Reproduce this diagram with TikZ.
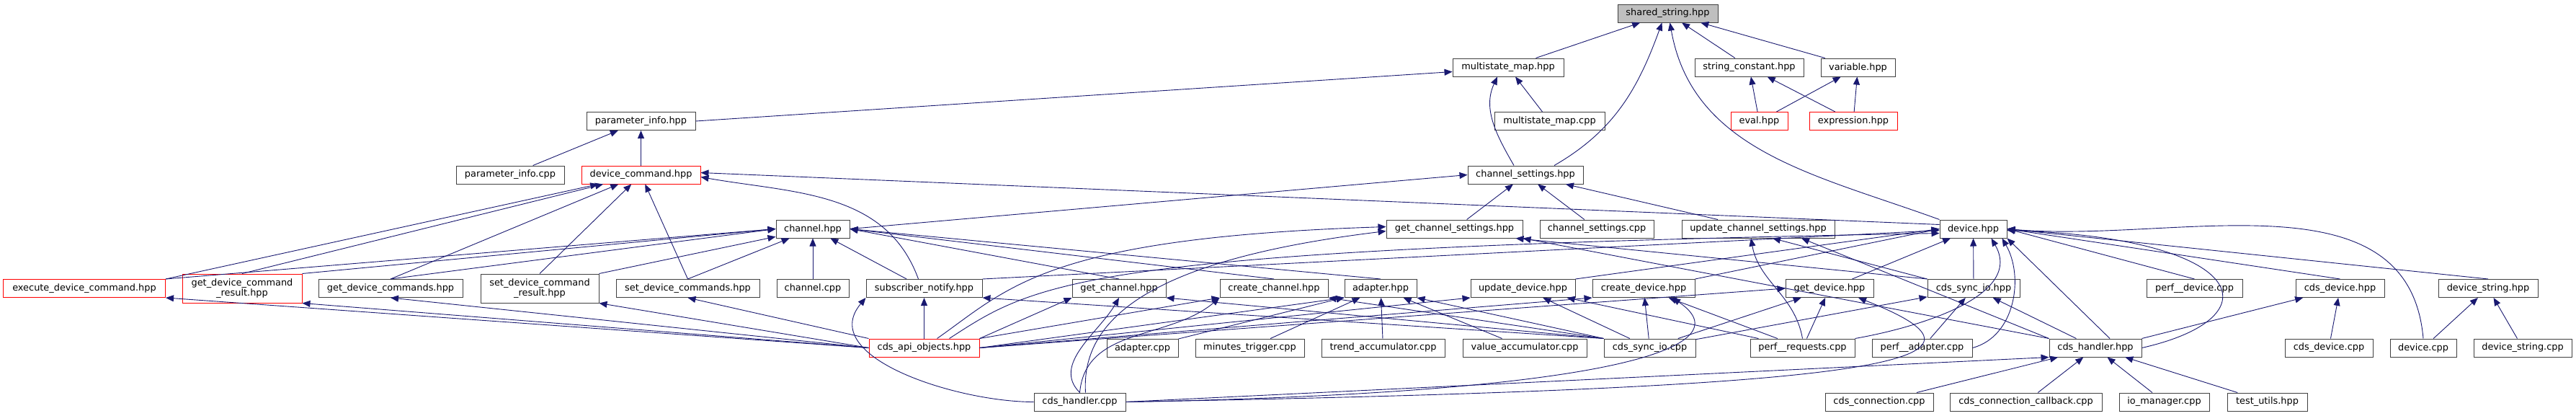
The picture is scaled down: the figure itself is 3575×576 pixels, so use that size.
\documentclass[tikz,border=0pt]{standalone}
\usepackage{fontspec}
\newfontfamily\dvs{DejaVu Sans}
\usetikzlibrary{arrows.meta}
\definecolor{edgeblue}{RGB}{25,25,112}
\definecolor{boxgray}{RGB}{191,191,191}
\tikzset{
  file/.style={draw=black!75, line width=1pt, fill=white, minimum height=25, inner sep=0pt,
    align=center, font=\dvs\fontsize{12.9}{14.5}\selectfont},
  trunc/.style={file, draw=red},
  self/.style={file, fill=boxgray},
  dep/.style={draw=edgeblue, line width=0.9pt, -{Triangle[length=11pt,width=9pt]}},
}

\begin{document}
\begin{tikzpicture}[x=1pt,y=1pt]
    \useasboundingbox (0,0) rectangle (3575,-576);
    % rows 1 to 4
    \node[self, minimum width=139] (ss) at (2314.5,-18.5) {shared\_string.hpp};
    \node[file, minimum width=154] (msh) at (2093,-93.5) {multistate\_map.hpp};
    \node[file, minimum width=151] (sc) at (2427.5,-93.5) {string\_constant.hpp};
    \node[file, minimum width=103] (var) at (2578.5,-93.5) {variable.hpp};
    \node[file, minimum width=151] (pih) at (889.5,-168) {parameter\_info.hpp};
    \node[file, minimum width=153] (msc) at (2150.5,-168) {multistate\_map.cpp};
    \node[trunc, minimum width=79] (eval) at (2441.5,-168) {eval.hpp};
    \node[trunc, minimum width=122] (expr) at (2572,-168) {expression.hpp};
    \node[file, minimum width=150] (pic) at (708,-242.5) {parameter\_info.cpp};
    \node[trunc, minimum width=165] (dc) at (889.5,-242.5) {device\_command.hpp};
    \node[file, minimum width=160] (csh) at (2117,-242.5) {channel\_settings.hpp};
    % row 5
    \node[file, minimum width=102] (ch) at (1128,-317.5) {channel.hpp};
    \node[file, minimum width=189] (gcs) at (2018.5,-317.5) {get\_channel\_settings.hpp};
    \node[file, minimum width=158] (csc) at (2216,-317.5) {channel\_settings.cpp};
    \node[file, minimum width=212] (ucs) at (2440,-317.5) {update\_channel\_settings.hpp};
    \node[file, minimum width=93] (dev) at (2738.5,-317.5) {device.hpp};
    % row 6
    \node[trunc, minimum width=225] (edc) at (117,-400) {execute\_device\_command.hpp};
    \node[trunc, minimum width=166, minimum height=40] (gdcr) at (336,-400) {get\_device\_command\\\_result.hpp};
    \node[file, minimum width=200] (gdcs) at (542,-400) {get\_device\_commands.hpp};
    \node[file, minimum width=164, minimum height=40] (sdcr) at (749,-400) {set\_device\_command\\\_result.hpp};
    \node[file, minimum width=199] (sdcs) at (954.5,-400) {set\_device\_commands.hpp};
    \node[file, minimum width=100] (chc) at (1128,-400) {channel.cpp};
    \node[file, minimum width=161] (sn) at (1282.5,-400) {subscriber\_notify.hpp};
    \node[file, minimum width=130] (gch) at (1553,-400) {get\_channel.hpp};
    \node[file, minimum width=150] (cch) at (1768,-400) {create\_channel.hpp};
    \node[file, minimum width=100] (adh) at (1916,-400) {adapter.hpp};
    \node[file, minimum width=145] (udh) at (2113.5,-400) {update\_device.hpp};
    \node[file, minimum width=142] (cdh) at (2281,-400) {create\_device.hpp};
    \node[file, minimum width=122] (gdh) at (2539,-400) {get\_device.hpp};
    \node[file, minimum width=128] (csio) at (2739,-400) {cds\_sync\_io.hpp};
    \node[file, minimum width=133] (pdc) at (3045.5,-400) {perf\_\_device.cpp};
    \node[file, minimum width=123] (cdvh) at (3247.5,-400) {cds\_device.hpp};
    \node[file, minimum width=138] (dsh) at (3453,-400) {device\_string.hpp};
    % row 7
    \node[trunc, minimum width=153] (cao) at (1282.5,-482.5) {cds\_api\_objects.hpp};
    \node[file, minimum width=99] (adc) at (1585.5,-482.5) {adapter.cpp};
    \node[file, minimum width=151] (mtc) at (1734.5,-482.5) {minutes\_trigger.cpp};
    \node[file, minimum width=171] (tac) at (1919.5,-482.5) {trend\_accumulator.cpp};
    \node[file, minimum width=172] (vac) at (2116,-482.5) {value\_accumulator.cpp};
    \node[file, minimum width=127] (csioc) at (2289.5,-482.5) {cds\_sync\_io.cpp};
    \node[file, minimum width=145] (prc) at (2501.5,-482.5) {perf\_\_requests.cpp};
    \node[file, minimum width=139] (pac) at (2667.5,-482.5) {perf\_\_adapter.cpp};
    \node[file, minimum width=128] (chh) at (2908,-482.5) {cds\_handler.hpp};
    \node[file, minimum width=122] (cdvc) at (3232,-482.5) {cds\_device.cpp};
    \node[file, minimum width=92] (devc) at (3363,-482.5) {device.cpp};
    \node[file, minimum width=136] (dsc) at (3501,-482.5) {device\_string.cpp};
    % row 8
    \node[file, minimum width=127] (chcpp) at (1498.5,-557.5) {cds\_handler.cpp};
    \node[file, minimum width=150] (ccc) at (2608,-557.5) {cds\_connection.cpp};
    \node[file, minimum width=211] (cccb) at (2811.5,-557.5) {cds\_connection\_callback.cpp};
    \node[file, minimum width=125] (iom) at (3003.5,-557.5) {io\_manager.cpp};
    \node[file, minimum width=111] (tu) at (3146.5,-557.5) {test\_utils.hpp};

    % includes of shared_string.hpp and its first users
    \draw[dep] (msh) -- (ss);
    \draw[dep] (sc) -- (ss);
    \draw[dep] (var) -- (ss);
    \draw[dep] ([xshift=40]csh.north) to[out=30,in=-110] ([xshift=-8]ss.south);
    \draw[dep] (dev.north west) to[out=160,in=-80] ([xshift=3]ss.south);
    \draw[dep] (pih.east) -- ([yshift=-6]msh.west);
    \draw[dep] (msc) -- (msh);
    \draw[dep] ([xshift=-16]csh.north) to[out=120,in=-115] ([xshift=-15]msh.south);
    \draw[dep] (eval) -- (sc);
    \draw[dep] (expr) -- (sc);
    \draw[dep] (eval) -- (var);
    \draw[dep] (expr) -- (var);
    \draw[dep] (pic) -- (pih);
    \draw[dep] (dc) -- (pih);
    % device_command.hpp
    \draw[dep] (edc.north east) -- (dc);
    \draw[dep] (gdcr.north) -- (dc);
    \draw[dep] (gdcs.north) -- (dc);
    \draw[dep] (sdcr.north) -- (dc);
    \draw[dep] (sdcs.north) -- (dc);
    \draw[dep] ([xshift=-8]sn.north) to[out=110,in=-10] ([yshift=-3]dc.east);
    \draw[dep] ([yshift=6]dev.west) -- ([yshift=3]dc.east);
    % channel_settings.hpp
    \draw[dep] (ch.east) -- (csh.west);
    \draw[dep] (gcs) -- (csh);
    \draw[dep] (csc) -- (csh);
    \draw[dep] (ucs) -- (csh);
    % channel.hpp
    \draw[dep] (edc.north east) -- (ch.west);
    \draw[dep] (gdcr.north east) -- (ch.west);
    \draw[dep] (gdcs.north) -- (ch.west);
    \draw[dep] (sdcr.north east) -- (ch);
    \draw[dep] (sdcs.north) -- (ch);
    \draw[dep] (chc) -- (ch);
    \draw[dep] (sn) -- (ch);
    \draw[dep] (gch.north) -- (ch.east);
    \draw[dep] (cch.north) -- (ch.east);
    \draw[dep] (adh.north) -- (ch.east);
    % device.hpp
    \draw[dep] (gdh) -- (dev);
    \draw[dep] (csio) -- (dev);
    \draw[dep] (sn.north east) -- ([yshift=-2]dev.west);
    \draw[dep] (udh.north east) -- (dev.west);
    \draw[dep] (cdh.north east) -- (dev.west);
    \draw[dep] (prc.north east) to[out=10,in=-60] ([xshift=25]dev.south);
    \draw[dep] (pac.east) to[out=15,in=-60] ([xshift=40]dev.south);
    \draw[dep] ([xshift=20]chh.north) -- (dev.south east);
    \draw[dep] (chh.east) .. controls (3160,-440) and (3120,-330) .. ([yshift=-2]dev.east);
    \draw[dep] (pdc.north) -- (dev.east);
    \draw[dep] (cdvh.north) -- (dev.east);
    \draw[dep] (dsh.north) -- (dev.east);
    \draw[dep] (devc.north) to[out=95,in=-5] (dev.east);
    % cds_api_objects.hpp
    \draw[dep] (cao.west) -- (edc.south east);
    \draw[dep] (cao.west) -- (gdcr.south east);
    \draw[dep] (cao.west) -- (gdcs.south);
    \draw[dep] (cao.west) -- (sdcr.south east);
    \draw[dep] (cao.north west) -- (sdcs.south);
    \draw[dep] (cao) -- (sn);
    \draw[dep] (cao.north east) -- (gch.south west);
    \draw[dep] (cao.north east) -- (cch.south west);
    \draw[dep] ([xshift=18]cao.north) .. controls (1400,-400) and (1450,-330) .. ([yshift=3]gcs.west);
    \draw[dep] ([xshift=35]cao.north) .. controls (1440,-390) and (1500,-345) .. ([yshift=-6]dev.west);
    \draw[dep] (cao.east) -- (adh.south west);
    \draw[dep] (cao.east) -- (udh.south west);
    \draw[dep] (cao.east) -- (cdh.south west);
    \draw[dep] (cao.east) -- (gdh.west);
    % cds_handler.cpp
    \draw[dep] (chcpp.west) to[out=180,in=230] (sn.south west);
    \draw[dep] (chcpp.north) to[out=135,in=240] (gch.south);
    \draw[dep] (chcpp.north) to[out=85,in=220] (cch.south west);
    \draw[dep] ([xshift=8]chcpp.north) .. controls (1500,-440) and (1600,-360) .. ([yshift=-3]gcs.west);
    \draw[dep] (chcpp.east) -- (chh.south west);
    \draw[dep] (chcpp.east) .. controls (2650,-538) and (2800,-500) .. ([xshift=40]gdh.south);
    \draw[dep] (chcpp.east) .. controls (2250,-545) and (2420,-480) .. ([xshift=40]cdh.south);
    % cds_sync_io.cpp
    \draw[dep] (csioc.north west) -- (sn.south east);
    \draw[dep] (csioc.north west) -- (gch.south east);
    \draw[dep] (csioc.north west) -- (cch.south east);
    \draw[dep] (csioc.north west) -- (adh.south east);
    \draw[dep] (csioc) -- (udh);
    \draw[dep] (csioc) -- (cdh);
    \draw[dep] (csioc) -- (gdh);
    \draw[dep] (csioc) -- (csio);
    % adapter.hpp and the other leaves
    \draw[dep] (adc) -- (adh);
    \draw[dep] (mtc) -- (adh);
    \draw[dep] (tac) -- (adh);
    \draw[dep] (vac) -- (adh);
    \draw[dep] (prc) -- (gdh);
    \draw[dep] (prc) -- (cdh);
    \draw[dep] (prc) -- (udh);
    \draw[dep] (prc.north) to[out=100,in=-80] ([xshift=-10]ucs.south);
    \draw[dep] (pac) -- (csio);
    \draw[dep] (csio.north west) -- ([xshift=-10]gcs.south east);
    \draw[dep] (csio.north west) -- ([xshift=20]ucs.south);
    \draw[dep] (chh) -- (csio);
    \draw[dep] (chh.north west) -- ([xshift=60]ucs.south);
    \draw[dep] (chh.north west) -- (gcs.south east);
    \draw[dep] (chh.north east) -- (cdvh);
    \draw[dep] (ccc) -- (chh);
    \draw[dep] (cccb) -- (chh);
    \draw[dep] (iom) -- (chh);
    \draw[dep] (tu) -- (chh);
    \draw[dep] (cdvc) -- (cdvh);
    \draw[dep] (devc) -- (dsh);
    \draw[dep] (dsc) -- (dsh);
\end{tikzpicture}
\end{document}
